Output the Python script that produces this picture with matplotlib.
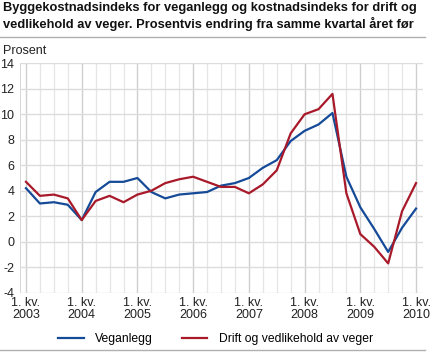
import matplotlib
matplotlib.use("Agg")
import matplotlib.pyplot as plt
import numpy as np

# quarterly data, 1. kv. 2003 - 1. kv. 2010
Years = ["2003", "2004", "2005", "2006", "2007", "2008", "2009", "2010"]

Veganlegg = [4.2, 3.0, 3.1, 2.9,
             1.7, 3.9, 4.7, 4.7,
             5.0, 3.9, 3.4, 3.7,
             3.8, 3.9, 4.4, 4.6,
             5.0, 5.8, 6.4, 7.9,
             8.7, 9.2, 10.1, 5.1,
             2.7, 1.0, -0.8, 1.1,
             2.6]

DriftVedlikehold = [4.7, 3.6, 3.7, 3.4,
                    1.7, 3.2, 3.6, 3.1,
                    3.7, 4.0, 4.6, 4.9,
                    5.1, 4.7, 4.3, 4.3,
                    3.8, 4.5, 5.6, 8.5,
                    10.0, 10.4, 11.6, 3.8,
                    0.6, -0.4, -1.7, 2.4,
                    4.6]

SeriesNames = ["Veganlegg", "Drift og vedlikehold av veger"]
TitleText = ("Byggekostnadsindeks for veganlegg og kostnadsindeks for drift og\n"
             "vedlikehold av veger. Prosentvis endring fra samme kvartal året før")

plt.rcParams["font.family"] = ["Liberation Sans", "DejaVu Sans"]
plt.rcParams["axes.unicode_minus"] = False

W, H = 431, 353
fig = plt.figure(figsize=(W / 100, H / 100), dpi=100)

# plot area in pixel coords
Left, Right, Top, Bottom = 20, 423, 63.3, 292.7
ax = fig.add_axes([Left / W, 1 - Bottom / H, (Right - Left) / W, (Bottom - Top) / H])

Quarters = np.arange(len(Veganlegg))
ax.plot(Quarters, Veganlegg, color="#144a97", linewidth=1.6, label=SeriesNames[0], zorder=3)
ax.plot(Quarters, DriftVedlikehold, color="#a8192a", linewidth=1.6, label=SeriesNames[1], zorder=3)

ax.set_xlim(-0.43, 28.5)
ax.set_ylim(-4, 14)
ax.set_yticks(np.arange(-4, 15, 2))
ax.set_xticks(np.arange(0, 29, 4))
ax.set_xticklabels([f"1. kv.\n{Y}" for Y in Years])
ax.set_xticks(Quarters, minor=True)

ax.grid(axis="y", color="#dcdcdc", linewidth=1.0, zorder=0)
ax.grid(axis="x", which="minor", color="#e6e6e6", linewidth=0.9, zorder=0)
ax.grid(axis="x", which="major", color="#cfcfcf", linewidth=1.0, zorder=0)
ax.axvline(-0.43, color="#cfcfcf", linewidth=1.2, zorder=1)

for Spine in ax.spines.values():
    Spine.set_visible(False)
ax.tick_params(axis="both", which="both", length=0, labelsize=9, colors="#222222")
ax.tick_params(axis="x", pad=3)
ax.tick_params(axis="y", pad=4)
for Label in ax.get_xticklabels():
    Label.set_linespacing(1.0)

fig.text(3 / W, 1 - 2 / H, TitleText, ha="left", va="top", fontsize=9.3,
         fontweight="bold", linespacing=1.3, color="#111111")
fig.add_artist(plt.Line2D([0, 425 / W], [1 - 37 / H, 1 - 37 / H], color="#b0b0b0", linewidth=1.0))
fig.text(3 / W, 1 - 51 / H, "Prosent", ha="left", va="center", fontsize=9, color="#222222")

fig.legend(loc="center", bbox_to_anchor=(0.5, 1 - 339 / H), ncol=2, frameon=False,
           fontsize=8.7, handlelength=2.1, handletextpad=0.95, columnspacing=2.4)
fig.add_artist(plt.Line2D([0, 425 / W], [1 - 350 / H, 1 - 350 / H], color="#b0b0b0", linewidth=1.0))

fig.savefig("out.png", dpi=100)
